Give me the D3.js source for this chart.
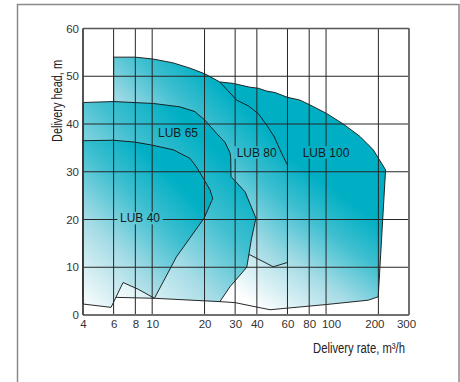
<!DOCTYPE html>
<html>
<head>
<meta charset="utf-8">
<script src="https://cdn.jsdelivr.net/npm/d3@7"></script>
<style>
  html, body { margin: 0; padding: 0; background: #fff; }
  svg { display: block; }
</style>
</head>
<body>
<div id="chart"></div>
<script>
// ---- data ----
const xTicks = [4, 6, 8, 10, 20, 30, 40, 60, 80, 100, 200, 300];
const yTicks = [0, 10, 20, 30, 40, 50, 60];
const seriesNames = ["LUB 100", "LUB 80", "LUB 65", "LUB 40"];

// outlines of each pump range: [delivery rate m3/h, delivery head m]
const lub100 = [[24.5,48.8],[29.3,48.5],[32.7,48.1],[36.5,47.7],[40.7,47.5],[45.5,46.9],[50.8,46.6],[59.8,45.6],[70.8,45.0],[80.8,44.0],[100.8,42.2],[125.6,40.0],[156.7,37.4],[186.8,34.6],[220,30.4],[199.6,3.8],[174.8,3.1],[100.8,2.2],[47.6,1.1],[29.9,2.6],[24.5,2.8]];
const lub80 = [[6,54],[8,54],[10.15,53.6],[13.2,52.8],[16.5,51.7],[20.1,50.5],[24.5,48.8],[30.6,45.0],[35.7,43.8],[40.7,42.2],[45.5,39.8],[50.4,37.3],[54.3,34.6],[60,31.4],[60,11.0],[49.7,10.1],[36.5,12.6],[6,12.6]];
const lub65 = [[4,44.5],[6,44.7],[10.15,44.3],[14.4,43.6],[17.6,42.6],[20.1,40.8],[23.5,38.0],[26.2,36.2],[28.0,34.0],[28.3,33.0],[28.4,29.0],[34.2,25.8],[39.5,20.3],[37.3,16.1],[35.0,10.0],[28.0,5.9],[24.5,2.8],[10.3,3.5],[6.1,3.7],[4,3.7]];
const lub40 = [[4,36.5],[6,36.6],[8,36.2],[9.9,35.6],[13.2,34.6],[16.5,32.8],[17.9,31.1],[19.7,28.6],[21.5,26.2],[22.3,24.4],[19.9,20.3],[13.8,12.2],[10.3,3.5],[8.3,5.4],[6.8,6.8],[5.8,1.6],[4,2.3]];
const seriesOutlines = [lub100, lub80, lub65, lub40];
// label anchor (start x, baseline y) in data units
const labelX = [73.4, 30.6, 10.8, 6.53];
const labelY = [33.15, 33.15, 37.3, 19.4];

const xTitle = "Delivery rate, m\u00B3/h";
const yTitle = "Delivery head, m";

// ---- layout ----
const W = 460, H = 382;
const x = d3.scaleLog().domain([4, 300]).range([83, 409]);
const y = d3.scaleLinear().domain([0, 60]).range([315, 28.5]);

const svg = d3.select("#chart").append("svg")
  .attr("width", W).attr("height", H)
  .attr("viewBox", `0 0 ${W} ${H}`);

const defs = svg.append("defs");

// gradient vectors (pixel space) per shape: white corner -> teal
const gradVec = [
  [262, 312, 345, 198],
  [212, 288, 318, 182],
  [108, 302, 238, 172],
  [85, 312, 196, 201]
];
const stops = [[0, "#ffffff"], [0.42, "#a6dce6"], [0.74, "#3ebfd0"], [1, "#00afc4"]];
seriesNames.forEach((n, i) => {
  const g = defs.append("linearGradient")
    .attr("id", "grad" + i)
    .attr("gradientUnits", "userSpaceOnUse")
    .attr("x1", gradVec[i][0]).attr("y1", gradVec[i][1])
    .attr("x2", gradVec[i][2]).attr("y2", gradVec[i][3]);
  stops.forEach(s => g.append("stop").attr("offset", s[0]).attr("stop-color", s[1]));
});

// outer frame
svg.append("rect")
  .attr("x", 17.5).attr("y", 4.5).attr("width", 441.5).attr("height", 420)
  .attr("fill", "none").attr("stroke", "#8a8a8a").attr("stroke-width", 1.5);

// shapes
const line = d3.line().x(d => x(d[0])).y(d => y(d[1]));
svg.append("g").selectAll("path")
  .data(seriesOutlines)
  .join("path")
  .attr("d", d => line(d) + "Z")
  .attr("fill", (d, i) => `url(#grad${i})`)
  .attr("stroke", "#111")
  .attr("stroke-width", 0.9)
  .attr("stroke-linejoin", "round");

// labels (drawn later, measured first)
const labelsG = svg.append("g").attr("class", "labels");
const labels = labelsG.selectAll("text")
  .data(seriesNames)
  .join("text")
  .attr("x", (d, i) => x(labelX[i]))
  .attr("y", (d, i) => y(labelY[i]))
  .attr("font-family", "'Liberation Sans', Arial, sans-serif")
  .attr("font-size", 12)
  .attr("fill", "#1a1a1a")
  .text(d => d);

// mask for gridlines to knock out behind labels
const mask = defs.append("mask").attr("id", "gridMask")
  .attr("maskUnits", "userSpaceOnUse")
  .attr("x", 0).attr("y", 0).attr("width", W).attr("height", H);
mask.append("rect").attr("x", 0).attr("y", 0).attr("width", W).attr("height", H).attr("fill", "#fff");
labels.each(function (d, i) {
  const b = this.getBBox();
  const base = y(labelY[i]);
  mask.append("rect")
    .attr("x", b.x - 2.5).attr("y", base - 10.5)
    .attr("width", b.width + 5).attr("height", 12.5)
    .attr("fill", "#000");
});

// grid
const grid = svg.insert("g", ".labels").attr("mask", "url(#gridMask)");
grid.selectAll("line.v")
  .data(xTicks)
  .join("line")
  .attr("class", "v")
  .attr("x1", d => x(d)).attr("x2", d => x(d))
  .attr("y1", y(60)).attr("y2", y(0))
  .attr("stroke", "#262626").attr("stroke-width", 1);
grid.selectAll("line.h")
  .data(yTicks)
  .join("line")
  .attr("class", "h")
  .attr("x1", x(4)).attr("x2", x(300))
  .attr("y1", d => y(d)).attr("y2", d => y(d))
  .attr("stroke", "#262626").attr("stroke-width", 1);

// plot frame
const frame = svg.insert("g", ".labels");
frame.append("line").attr("x1", x(4)).attr("x2", x(300)).attr("y1", y(0)).attr("y2", y(0))
  .attr("stroke", "#707070").attr("stroke-width", 2);
frame.append("line").attr("x1", x(300)).attr("x2", x(300)).attr("y1", y(60)).attr("y2", y(0))
  .attr("stroke", "#707070").attr("stroke-width", 2);
frame.append("line").attr("x1", x(4)).attr("x2", x(300)).attr("y1", y(60)).attr("y2", y(60))
  .attr("stroke", "#555").attr("stroke-width", 1.5);
frame.append("line").attr("x1", x(4)).attr("x2", x(4)).attr("y1", y(60)).attr("y2", y(0))
  .attr("stroke", "#333").attr("stroke-width", 1.3);

// axes tick labels via d3 axes
const xAxis = d3.axisBottom(x).tickValues(xTicks).tickFormat(d3.format("d")).tickSize(0).tickPadding(5);
const yAxis = d3.axisLeft(y).tickValues(yTicks).tickFormat(d3.format("d")).tickSize(0).tickPadding(4);

const gx = svg.append("g").attr("transform", `translate(0,${y(0)})`).call(xAxis);
const gy = svg.append("g").attr("transform", `translate(${x(4)},0)`).call(yAxis);
[gx, gy].forEach(g => {
  g.select(".domain").remove();
  g.selectAll("text")
    .attr("font-family", "'Liberation Sans', Arial, sans-serif")
    .attr("font-size", 11.5)
    .attr("fill", "#333");
});
// small nudges so crowded labels do not collide (as in the original)
const xNudge = {100: 5, 200: -4, 300: -3};
gx.selectAll("text").attr("dx", d => xNudge[d] || 0);

// axis titles (condensed look)
const titleFont = "'Liberation Sans', Arial, sans-serif";
svg.append("text")
  .attr("x", 405).attr("y", 352.5)
  .attr("text-anchor", "end")
  .attr("font-family", titleFont)
  .attr("font-size", 14)
  .attr("fill", "#222")
  .attr("textLength", 92)
  .attr("lengthAdjust", "spacingAndGlyphs")
  .text(xTitle);
svg.append("text")
  .attr("transform", "translate(61.5,101) rotate(-90)")
  .attr("text-anchor", "middle")
  .attr("font-family", titleFont)
  .attr("font-size", 14)
  .attr("fill", "#222")
  .attr("textLength", 82)
  .attr("lengthAdjust", "spacingAndGlyphs")
  .text(yTitle);
</script>
</body>
</html>
